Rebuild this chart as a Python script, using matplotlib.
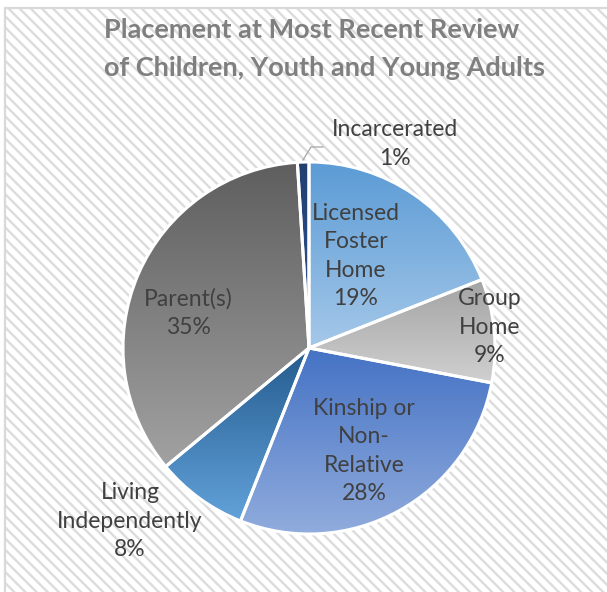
import numpy as np
import matplotlib
matplotlib.use("Agg")
import matplotlib.pyplot as plt
from matplotlib.colors import LinearSegmentedColormap
from matplotlib.patches import Rectangle

plt.rcParams["font.family"] = ["Lato", "DejaVu Sans"]
plt.rcParams["hatch.linewidth"] = 1.7

# placement shares, clockwise from 12 o'clock
labels = ["Licensed\nFoster\nHome", "Group\nHome", "Kinship or\nNon-\nRelative",
          "Living\nIndependently", "Parent(s)", "Incarcerated"]
shares = [19, 9, 28, 8, 35, 1]
# (top, bottom) gradient colours for each slice
shades = [("#5b9bd5", "#a5c8e9"), ("#a3a3a3", "#d0d0d0"), ("#4472c4", "#91acdd"),
          ("#245b8e", "#62a2da"), ("#5e5e5e", "#a2a2a2"), ("#223f70", "#2f5597")]
# label block centres in pixels (x, y from top)
label_pos = [(356, 256), (490, 327), (364, 451), (130, 521), (188, 313), (395, 144)]

W, H = 607, 592
fig = plt.figure(figsize=(W / 100, H / 100), dpi=100)
ax = fig.add_axes([0, 0, 1, 1])

# chart area: white with diagonal stripes, thin grey frame
ax.add_patch(Rectangle((5, 0), W, H - 8, facecolor="white", edgecolor="#dcdcdc",
                       hatch="\\\\\\", linewidth=0, zorder=0))
ax.plot([5, 5, W], [0, H - 8, H - 8], color="#d9d9d9", lw=1.6, zorder=1)

cx, cy, r = 309, H - 348, 186
wedges, _ = ax.pie(shares, startangle=90, counterclock=False, center=(cx, cy),
                   radius=r, frame=True,
                   wedgeprops=dict(edgecolor="white", linewidth=2.2))
ax.set_xlim(0, W)
ax.set_ylim(0, H)
ax.set_aspect("equal")
ax.axis("off")

grad = np.linspace(0, 1, 256).reshape(-1, 1)
for w, (top, bot) in zip(wedges, shades):
    verts = w.get_patch_transform().transform(w.get_path().vertices)
    x0, y0 = verts.min(axis=0)
    x1, y1 = verts.max(axis=0)
    cmap = LinearSegmentedColormap.from_list("s", [bot, top])
    im = ax.imshow(grad, cmap=cmap, extent=[x0, x1, y0, y1], origin="lower",
                   aspect="auto", zorder=2, interpolation="bilinear")
    im.set_clip_path(w)
    w.set_facecolor("none")
    w.set_zorder(3)

for lab, pct, (x, y) in zip(labels, shares, label_pos):
    ax.text(x, H - y, f"{lab}\n{pct}%", ha="center", va="center", fontsize=16.5,
            color="#404040", linespacing=1.45, zorder=4)

# leader line for the thin slice
ax.plot([303, 311, 323], [H - 160, H - 147, H - 147], color="#a6a6a6", lw=0.9, zorder=4)

fig.text(104 / W, 1 - 30 / H, "Placement at Most Recent Review", ha="left", va="center",
         fontsize=19.5, fontweight="bold", color="#7f7f7f")
fig.text(104 / W, 1 - 68 / H, "of Children, Youth and Young Adults", ha="left", va="center",
         fontsize=19.5, fontweight="bold", color="#7f7f7f")

fig.savefig("out.png", dpi=100)
